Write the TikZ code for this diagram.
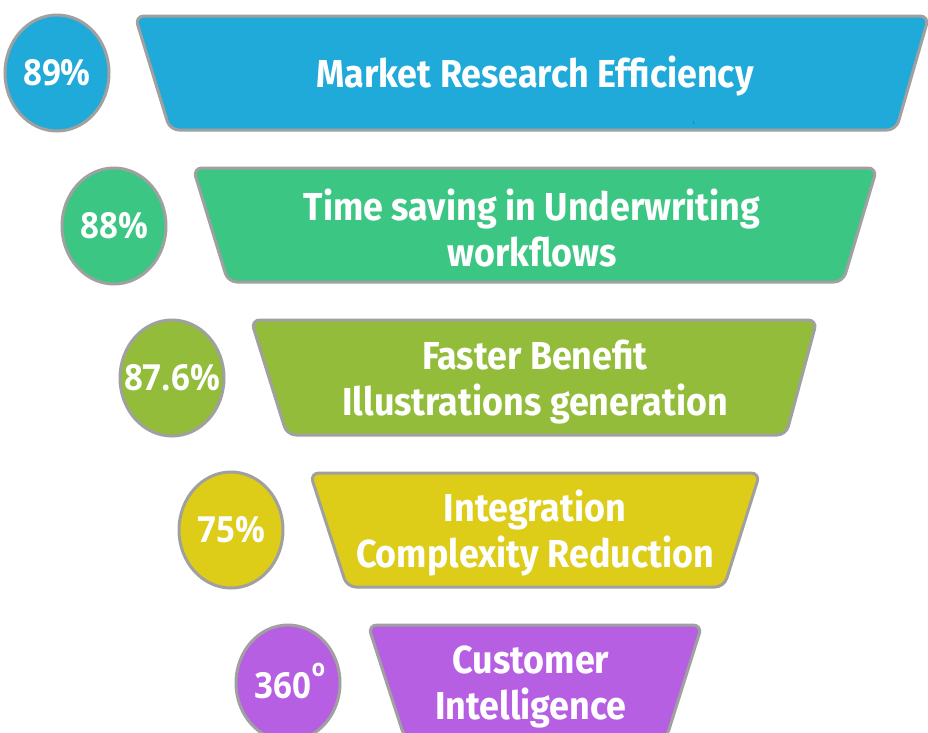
\documentclass[tikz,border=0pt]{standalone}
\usepackage{fontspec}
\newfontfamily\stagefont[FakeStretch=0.92]{Fira Sans}
\newfontfamily\pctfont[FakeStretch=0.92]{Open Sans}

\definecolor{edgegray}{HTML}{A0A0A0}
\definecolor{rowblue}{HTML}{1FAAD9}
\definecolor{rowgreen}{HTML}{3CC683}
\definecolor{rowolive}{HTML}{92BC3A}
\definecolor{rowyellow}{HTML}{DDCC18}
\definecolor{rowpurple}{HTML}{B65FE3}

\newcommand{\degsup}{\raisebox{0.62em}{\fontsize{24}{24}\selectfont o}}

\tikzset{
    rim/.style={draw=edgegray, line width=3pt, rounded corners=9pt},
    bubble/.style={draw=edgegray, line width=3pt},
    pct/.style={text=white, inner sep=0pt, font=\pctfont\bfseries\fontsize{36}{40}\selectfont},
    stage/.style={text=white, inner sep=0pt, align=center,
        font=\stagefont\bfseries\fontsize{39}{46}\selectfont},
}

\begin{document}
\begin{tikzpicture}[x=1pt, y=-1pt]
    \useasboundingbox (0,0) rectangle (928,732);
    \clip (0,0) rectangle (928,732);
    % row 1
    \filldraw[rim, fill=rowblue] (135,16) -- (929,16) -- (896,130) -- (170,130) -- cycle;
    \filldraw[bubble, fill=rowblue] (57,73) ellipse (52 and 58);
    \node[pct] (p1) at (57,73) {89\%};
    \node[stage] (s1) at (535,76) {Market Research Efficiency};
    \node[text=black!80, font=\small] (tick) at (694,124) {`};
    % row 2
    \filldraw[rim, fill=rowgreen] (193,168) -- (877,168) -- (843,282) -- (228,282) -- cycle;
    \filldraw[bubble, fill=rowgreen] (114,226) ellipse (52 and 58);
    \node[pct] (p2) at (114,226) {88\%};
    \node[stage] (s2) at (532,228) {Time saving in Underwriting\\workflows};
    % row 3
    \filldraw[rim, fill=rowolive] (251,320) -- (817,320) -- (786,435) -- (287,435) -- cycle;
    \filldraw[bubble, fill=rowolive] (172,378) ellipse (52 and 58);
    \node[pct] (p3) at (172,378) {87.6\%};
    \node[stage] (s3) at (535,382) {Faster Benefit\\Illustrations generation};
    % row 4
    \filldraw[rim, fill=rowyellow] (310,473) -- (760,473) -- (724,587) -- (347,587) -- cycle;
    \filldraw[bubble, fill=rowyellow] (231,530) ellipse (52 and 58);
    \node[pct] (p4) at (231,530) {75\%};
    \node[stage] (s4) at (535,533) {Integration\\Complexity Reduction};
    % row 5
    \filldraw[rim, fill=rowpurple] (368,625) -- (702,625) -- (666,739) -- (405,739) -- cycle;
    \filldraw[bubble, fill=rowpurple] (288,683) ellipse (52 and 58);
    \node[pct] (p5) at (290,681) {360\degsup};
    \node[stage] (s5) at (531,687) {Customer\\Intelligence};
\end{tikzpicture}
\end{document}
